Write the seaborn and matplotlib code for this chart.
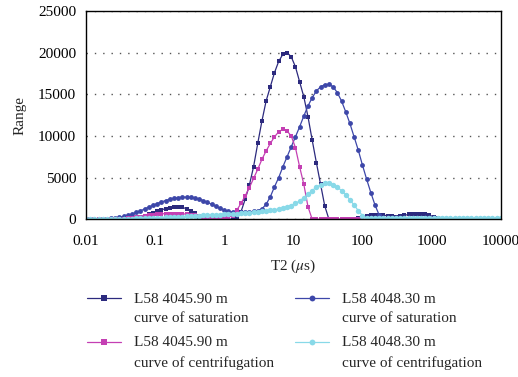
import numpy as np
import pandas as pd
import matplotlib
matplotlib.use("Agg")
import matplotlib.pyplot as plt
import seaborn as sns

sns.set_style("white")
plt.rcParams['font.family'] = ['Liberation Serif', 'DejaVu Serif']
plt.rcParams['mathtext.fontset'] = 'stix'

# T2 grid (100 log-spaced relaxation times, 0.01 - 10000 us)
t2 = np.logspace(-2, 4, 100)

# L58 4045.90 m, saturation
sat_4045 = [0, 0, 0, 0, 0, 0, 0, 0, 20, 50,
            100, 150, 220, 320, 450, 600, 780, 960, 1130, 1290,
            1400, 1470, 1480, 1420, 1280, 1050, 700, 300, 80, 20,
            20, 20, 20, 20, 20, 20, 150, 900, 2400, 4100,
            6300, 9100, 11800, 14200, 15900, 17600, 18950, 19800, 20000, 19500,
            18300, 16500, 14700, 12300, 9500, 6800, 4200, 1600, 0, 0,
            0, 0, 0, 0, 0, 100, 300, 450, 520, 550,
            550, 500, 420, 350, 330, 380, 480, 580, 650, 680,
            660, 600, 480, 320, 150, 30, 0, 0, 0, 0,
            0, 0, 0, 0, 0, 0, 0, 0, 0, 0]

# L58 4048.30 m, saturation
sat_4048 = [50, 50, 50, 50, 50, 80, 120, 170, 250, 350,
            480, 640, 820, 1020, 1240, 1460, 1680, 1890, 2080, 2250,
            2400, 2520, 2600, 2650, 2660, 2620, 2540, 2420, 2250, 2040,
            1800, 1550, 1300, 1100, 950, 870, 850, 850, 870, 900,
            950, 1050, 1250, 1800, 2700, 3900, 5000, 6300, 7500, 8700,
            9900, 11100, 12400, 13600, 14600, 15400, 15900, 16150, 16200, 15900,
            15200, 14200, 12900, 11500, 9900, 8300, 6500, 4800, 3200, 1700,
            500, 150, 120, 100, 100, 100, 100, 100, 100, 100,
            100, 100, 100, 100, 100, 80, 50, 30, 0, 0,
            0, 0, 0, 0, 0, 0, 0, 0, 0, 0]

# L58 4045.90 m, centrifugation
cen_4045 = [0, 0, 0, 0, 0, 0, 0, 0, 30, 60,
            100, 160, 230, 310, 400, 480, 550, 610, 650, 680,
            690, 690, 680, 660, 620, 560, 470, 360, 260, 190,
            150, 130, 130, 150, 220, 450, 1100, 1900, 2800, 3800,
            4900, 6000, 7200, 8200, 9100, 9900, 10500, 10800, 10600, 10000,
            8600, 6300, 4200, 1500, 0, 0, 0, 0, 0, 0,
            0, 0, 0, 0, 0, 0, 0, 0, 0, 0,
            0, 0, 0, 0, 0, 0, 0, 0, 0, 0,
            0, 0, 0, 0, 0, 0, 0, 0, 0, 0,
            0, 0, 0, 0, 0, 0, 0, 0, 0, 0]

# L58 4048.30 m, centrifugation
cen_4048 = [50, 50, 50, 50, 50, 50, 50, 50, 50, 50,
            70, 85, 100, 115, 130, 150, 170, 190, 210, 235,
            260, 285, 310, 335, 360, 385, 410, 435, 460, 485,
            510, 535, 560, 590, 620, 655, 690, 730, 770, 815,
            860, 910, 960, 1020, 1080, 1150, 1230, 1330, 1450, 1650,
            1900, 2200, 2600, 3000, 3450, 3850, 4150, 4300, 4300, 4150,
            3850, 3450, 2950, 2350, 1700, 1050, 450, 150, 100, 100,
            100, 100, 100, 100, 100, 100, 100, 100, 100, 100,
            100, 100, 100, 100, 100, 100, 100, 100, 100, 100,
            100, 100, 100, 100, 100, 100, 100, 100, 100, 100]

series = [
    ("L58 4045.90 m\ncurve of saturation", sat_4045, "#2c2a7e", "s", 3.2),
    ("L58 4048.30 m\ncurve of saturation", sat_4048, "#3d47a9", "o", 3.5),
    ("L58 4045.90 m\ncurve of centrifugation", cen_4045, "#c43fb3", "s", 3.2),
    ("L58 4048.30 m\ncurve of centrifugation", cen_4048, "#88d9e8", "o", 3.9),
]

fig = plt.figure(figsize=(5.18, 3.77), dpi=100)
ax = fig.add_axes([0.166, 0.4183, 0.8006, 0.5526])

for label, vals, color, mk, ms in series:
    df = pd.DataFrame({"t2": t2, "amp": vals})
    sns.lineplot(data=df, x="t2", y="amp", ax=ax, color=color, marker=mk,
                 markersize=ms, markeredgewidth=0, linewidth=0.9,
                 label=label)

ax.set_xscale("log")
ax.set_xlim(0.01, 10000)
ax.set_ylim(0, 25000)
ax.set_xticks([0.01, 0.1, 1, 10, 100, 1000, 10000])
ax.set_xticklabels(["0.01", "0.1", "1", "10", "100", "1000", "10000"])
ax.xaxis.set_minor_locator(matplotlib.ticker.NullLocator())
ax.set_yticks([0, 5000, 10000, 15000, 20000, 25000])
ax.tick_params(axis="both", direction="out", length=4, width=1,
               labelsize=11, colors="black", pad=3)
ax.tick_params(axis="x", pad=7)
ax.yaxis.grid(True, linestyle=(0, (1, 5)), color="#555555", linewidth=1)
ax.xaxis.grid(False)
for sp in ax.spines.values():
    sp.set_color("black")
    sp.set_linewidth(1)
ax.set_xlabel("T2 ($\\mu$s)", fontsize=11, labelpad=7)
ax.set_ylabel("Range", fontsize=11, labelpad=8)

# legend: column 1 = 4045.90 m, column 2 = 4048.30 m
ax.get_legend().remove()
handles, labels = ax.get_legend_handles_labels()
order = [0, 2, 1, 3]
leg = fig.legend([handles[i] for i in order], [labels[i] for i in order],
                 loc="upper left", ncols=2,
                 bbox_to_anchor=(0.168, 0.224), frameon=False, fontsize=11,
                 handlelength=2.2, handletextpad=0.85, columnspacing=1.4,
                 labelspacing=0.72, borderpad=0, borderaxespad=0)
for t in leg.get_texts():
    t.set_linespacing(1.65)
# put each handle level with the first line of its label
for ln in leg.get_lines():
    ln.set_ydata(np.asarray(ln.get_ydata()) + 7.8)
    ln.set_markersize(4.2)

fig.savefig("out.png", dpi=100)
